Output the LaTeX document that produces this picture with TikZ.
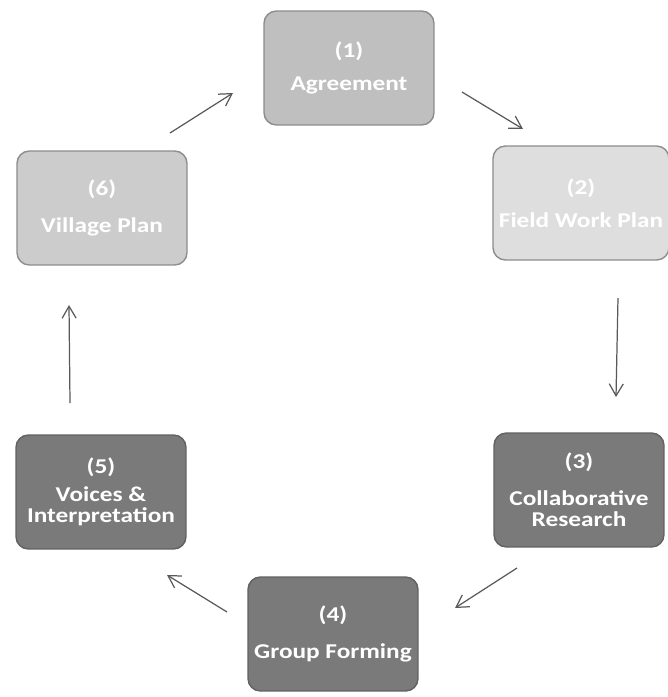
\documentclass[tikz,border=0pt]{standalone}
\usepackage{fontspec}
\newfontfamily\boksfont[FakeStretch=1.2]{Carlito}
\usetikzlibrary{graphs,arrows.meta}

\begin{document}
\begin{tikzpicture}[x=0.02cm, y=-0.02cm,
    boks/.style={draw=black!45, line width=0.8pt, rounded corners=7pt,
      minimum width=3.4cm, minimum height=2.28cm, align=center, text=white,
      font=\boksfont\bfseries\fontsize{12}{12}\selectfont},
    lys/.style={boks, fill=black!25},
    mork/.style={boks, fill=black!52, draw=black!62},
    pil/.style={draw=black!65, line width=0.7pt},
    >={Straight Barb[length=2.4mm, width=2.8mm]}]
  \useasboundingbox (0,0) rectangle (667,697);

  %Boksene her
  \node[lys] (1) at (349,68) {(1)\\[7pt]Agreement};
  \node[lys, fill=black!13] (2) at (581,203) {(2)\\[7pt]Field Work Plan};
  \node[mork] (3) at (579,490) {(3)\\[9pt]Collaborative\\Research};
  \node[mork] (4) at (333,634) {(4)\\[9pt]Group Forming};
  \node[mork] (5) at (101,492) {(5)\\[4pt]Voices \&\\Interpretation};
  \node[lys, fill=black!20] (6) at (102,208) {(6)\\[9pt]Village Plan};

  %Pilene her
  \coordinate (s1) at (462,92);  \coordinate (e1) at (523,129);
  \coordinate (s2) at (618,298); \coordinate (e2) at (616,397);
  \coordinate (s3) at (517,568); \coordinate (e3) at (455,608);
  \coordinate (s4) at (227,612); \coordinate (e4) at (167,575);
  \coordinate (s5) at (70,403);  \coordinate (e5) at (69,305);
  \coordinate (s6) at (170,133); \coordinate (e6) at (233,93);
  \graph[edges={pil}] {
    (s1) -> (e1); (s2) -> (e2); (s3) -> (e3);
    (s4) -> (e4); (s5) -> (e5); (s6) -> (e6);
  };
\end{tikzpicture}
\end{document}
